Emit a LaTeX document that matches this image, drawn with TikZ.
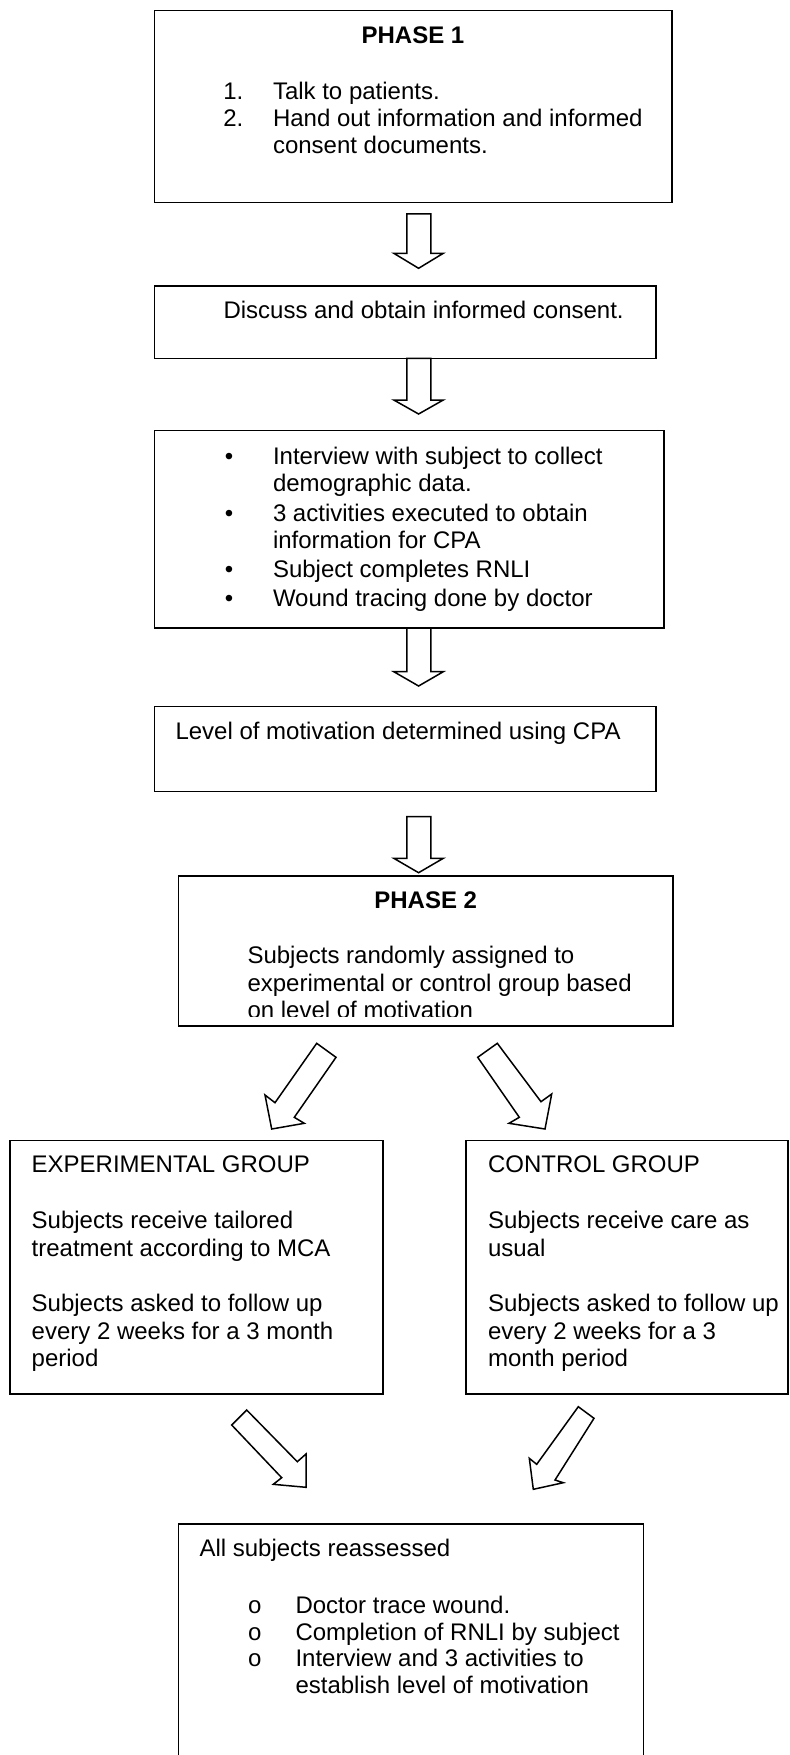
\documentclass[tikz,border=0pt]{standalone}
\usepackage{fontspec}
\setmainfont{Liberation Sans}
\newfontfamily\bulletmono{Liberation Mono}
\begin{document}
\begin{tikzpicture}[x=0.5pt,y=-0.5pt,
  box/.style={draw, line width=0.75pt, rectangle, inner sep=0pt, outer sep=0pt, anchor=north west},
  txt/.style={anchor=base west, inner sep=0pt, outer sep=0pt, font=\fontsize{12}{13.6}\selectfont},
  ctxt/.style={anchor=base, inner sep=0pt, outer sep=0pt, font=\fontsize{12}{13.6}\selectfont},
  blk/.style={draw, line width=0.75pt, fill=white, line join=miter},
]
\useasboundingbox (0,0) rectangle (790,1755);

% ---------- boxes ----------
\node[box, minimum width=258.65pt, minimum height=96pt]   (b1) at (154.7,10.7) {};
\node[box, minimum width=250.65pt, minimum height=36.15pt] (b2) at (154.7,286) {};
\node[box, minimum width=254.65pt, minimum height=98.65pt] (b3) at (154.7,430.7) {};
\node[box, minimum width=250.65pt, minimum height=42.5pt]  (b4) at (154.7,706.7) {};
\node[box, minimum width=247.25pt, minimum height=75pt]    (b5) at (178.5,876) {};
\node[box, minimum width=186.5pt, minimum height=126.75pt] (b6) at (10,1140.7) {};
\node[box, minimum width=161pt, minimum height=126.75pt]   (b7) at (466,1140.7) {};
\coordinate (b8nw) at (178.5,1524);
\coordinate (b8ne) at (643.5,1524);
\draw[line width=0.75pt] (b8nw |- 0,1756) -- (b8nw) -- (b8ne) -- (b8ne |- 0,1756);

% ---------- box 1 ----------
\node[ctxt] (t1h) at (413,43.3) {\textbf{PHASE 1}};
\node[txt] (t1n1) at (223.3,99.3) {1.};
\node[txt] (t1a) at (273,99.3) {Talk to patients.};
\node[txt] (t1n2) at (223.3,126.7) {2.};
\node[txt] (t1b) at (273,126.7) {Hand out information and informed};
\node[txt] (t1c) at (273,153.4) {consent documents.};

% ---------- box 2 ----------
\node[txt] (t2) at (223.5,318.5) {Discuss and obtain informed consent.};

% ---------- box 3 ----------
\node[ctxt] (t3b1) at (229,464) {\textbullet};
\node[txt] (t3a) at (273,464) {Interview with subject to collect};
\node[txt] (t3a2) at (273,491.5) {demographic data.};
\node[ctxt] (t3b2) at (229,521.5) {\textbullet};
\node[txt] (t3b) at (273,521.5) {3 activities executed to obtain};
\node[txt] (t3b3) at (273,548.3) {information for CPA};
\node[ctxt] (t3b4) at (229,577.5) {\textbullet};
\node[txt] (t3c) at (273,577.5) {Subject completes RNLI};
\node[ctxt] (t3b5) at (229,606.5) {\textbullet};
\node[txt] (t3d) at (273,606.5) {Wound tracing done by doctor};

% ---------- box 4 ----------
\node[txt] (t4) at (175.5,739) {Level of motivation determined using CPA};

% ---------- box 5 ----------
\node[ctxt] (t5h) at (425.7,908.3) {\textbf{PHASE 2}};
\node[txt] (t5a) at (247.5,963.5) {Subjects randomly assigned to};
\node[txt] (t5b) at (247.5,991) {experimental or control group based};
\begin{scope}
  \clip (180,995) rectangle (670,1016.8);
  \node[txt] (t5c) at (247.5,1018.8) {on level of motivation};
\end{scope}

% ---------- box 6 ----------
\node[txt] (t6h) at (31.7,1172.3) {EXPERIMENTAL GROUP};
\node[txt] (t6a) at (31.7,1228.3) {Subjects receive tailored};
\node[txt] (t6b) at (31.7,1256) {treatment according to MCA};
\node[txt] (t6c) at (31.7,1311) {Subjects asked to follow up};
\node[txt] (t6d) at (31.7,1339) {every 2 weeks for a 3 month};
\node[txt] (t6e) at (31.7,1366.5) {period};

% ---------- box 7 ----------
\node[txt] (t7h) at (488,1172.3) {CONTROL GROUP};
\node[txt] (t7a) at (488,1228.3) {Subjects receive care as};
\node[txt] (t7b) at (488,1256) {usual};
\node[txt] (t7c) at (488,1311) {Subjects asked to follow up};
\node[txt] (t7d) at (488,1339) {every 2 weeks for a 3};
\node[txt] (t7e) at (488,1366.5) {month period};

% ---------- box 8 ----------
\node[txt] (t8h) at (199.5,1556.7) {All subjects reassessed};
\node[ctxt] (t8o1) at (254.8,1613.3) {\bulletmono o};
\node[txt] (t8a) at (295.5,1613.3) {Doctor trace wound.};
\node[ctxt] (t8o2) at (254.8,1640) {\bulletmono o};
\node[txt] (t8b) at (295.5,1640) {Completion of RNLI by subject};
\node[ctxt] (t8o3) at (254.8,1666.7) {\bulletmono o};
\node[txt] (t8c) at (295.5,1666.7) {Interview and 3 activities to};
\node[txt] (t8d) at (295.5,1693.3) {establish level of motivation};

% ---------- block arrows ----------
\draw[blk] (406.8,214) -- (430.8,214) -- (430.8,253.3) -- (443.3,253.3) -- (418.6,268.3) -- (393.8,253.3) -- (406.8,253.3) -- cycle;
\draw[blk] (406.8,358.3) -- (430.8,358.3) -- (430.8,400) -- (443.3,400) -- (418.6,414) -- (393.8,400) -- (406.8,400) -- cycle;
\draw[blk] (406.8,628) -- (430.8,628) -- (430.8,671.7) -- (443.3,671.7) -- (418.6,686) -- (393.8,671.7) -- (406.8,671.7) -- cycle;
\draw[blk] (406.8,816.7) -- (430.8,816.7) -- (430.8,858.3) -- (443.3,858.3) -- (418.6,872.7) -- (393.8,858.3) -- (406.8,858.3) -- cycle;

\draw[blk] (316.7,1043.3) -- (336,1057.3) -- (294.3,1117.3) -- (304.3,1123.3) -- (271.7,1129) -- (265,1095) -- (275,1102.7) -- cycle;
\draw[blk] (497.3,1043.3) -- (477.7,1057.3) -- (519.3,1117.3) -- (509,1123.3) -- (545,1129) -- (551.7,1094) -- (541,1101.7) -- cycle;
\draw[blk] (246.7,1410) -- (231.7,1425) -- (281.7,1477.7) -- (273.3,1484.3) -- (306,1487.3) -- (306,1454) -- (297.3,1461.7) -- cycle;
\draw[blk] (578.3,1406.7) -- (594,1418.3) -- (555,1480) -- (563.3,1482.7) -- (533.3,1489.3) -- (529.3,1458.3) -- (536.7,1464.3) -- cycle;
\end{tikzpicture}
\end{document}
